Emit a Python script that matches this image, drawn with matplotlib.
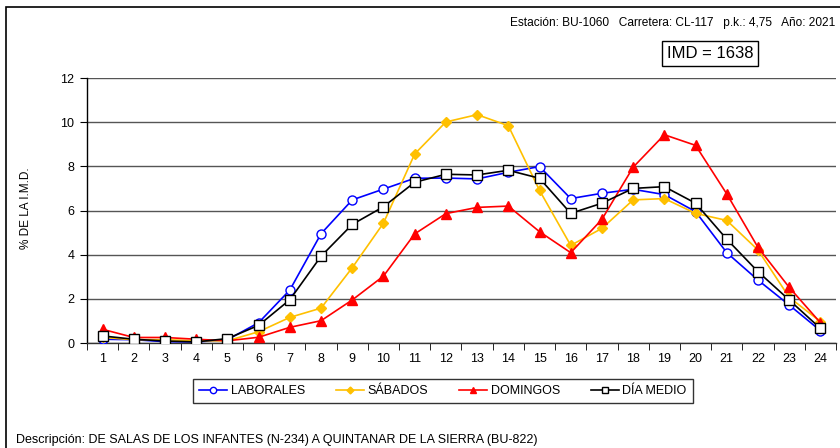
import numpy as np
import matplotlib
matplotlib.use('Agg')
import matplotlib.pyplot as plt
from matplotlib.patches import Rectangle

plt.rcParams['font.family'] = ['Liberation Sans', 'DejaVu Sans']

hours = list(range(1, 25))
laborales = [0.17, 0.15, 0.06, 0.05, 0.15, 0.92, 2.40, 4.95, 6.48, 6.97, 7.46, 7.47,
             7.43, 7.73, 7.99, 6.54, 6.78, 6.96, 6.72, 5.95, 4.09, 2.85, 1.72, 0.56]
sabados = [0.25, 0.15, 0.15, 0.10, 0.10, 0.51, 1.16, 1.58, 3.41, 5.43, 8.56, 10.01,
           10.34, 9.84, 6.91, 4.42, 5.19, 6.48, 6.54, 5.87, 5.55, 4.21, 2.07, 0.97]
domingos = [0.62, 0.25, 0.25, 0.17, 0.10, 0.26, 0.71, 1.01, 1.95, 3.03, 4.94, 5.86,
            6.14, 6.20, 5.04, 4.09, 5.60, 7.96, 9.43, 8.95, 6.75, 4.33, 2.52, 0.92]
dia_medio = [0.32, 0.17, 0.09, 0.05, 0.20, 0.80, 1.96, 3.93, 5.37, 6.17, 7.28, 7.64,
             7.61, 7.82, 7.46, 5.87, 6.33, 7.00, 7.08, 6.33, 4.70, 3.23, 1.95, 0.66]

W, H = 840, 448
fig = plt.figure(figsize=(W / 100, H / 100), dpi=100)

# outer frame (only left and top visible in the original)
fig.patches.append(Rectangle((6 / W, -0.1), 1.2, 1 - 7 / H + 0.1, transform=fig.transFigure,
                             fill=False, edgecolor='black', linewidth=1.2))

ax = fig.add_axes([87 / W, 1 - 343 / H, (836 - 87) / W, (343 - 78) / H])

ax.plot(hours, laborales, '-o', color='#0000FF', lw=1.2, ms=6.5, mfc='white',
        mec='#0000FF', mew=1.0, label='LABORALES', zorder=3)
ax.plot(hours, sabados, '-D', color='#FFC000', lw=1.2, ms=5, mfc='#FFC000',
        mec='#FFC000', label='SÁBADOS', zorder=3)
ax.plot(hours, domingos, '-^', color='#FF0000', lw=1.2, ms=6.5, mfc='#FF0000',
        mec='#FF0000', label='DOMINGOS', zorder=3)
ax.plot(hours, dia_medio, '-s', color='black', lw=1.2, ms=7, mfc='white',
        mec='black', mew=1.0, label='DÍA MEDIO', zorder=4)

ax.set_xlim(0.5, 24.5)
ax.set_ylim(0, 12)
ax.set_yticks(np.arange(0, 13, 2))
ax.set_xticks(hours)
ax.set_xticks(np.arange(0.5, 25, 1), minor=True)
ax.tick_params(axis='x', which='major', length=0, labelsize=9, pad=7)
ax.tick_params(axis='x', which='minor', length=5, direction='out', color='black')
ax.tick_params(axis='y', which='major', length=5, direction='out', labelsize=9, pad=4)
ax.yaxis.grid(True, color='#555555', linewidth=1.0)
ax.set_axisbelow(True)
for s in ['top', 'right']:
    ax.spines[s].set_visible(False)
ax.spines['left'].set_linewidth(1.0)
ax.spines['bottom'].set_linewidth(1.0)
ax.spines['bottom'].set_color('#333333')

fig.text(26 / W, 1 - 208 / H, '% DE LA I.M.D.', rotation=90, ha='center', va='center', fontsize=8.5)

fig.text(835 / W, 1 - 23 / H, 'Estación: BU-1060   Carretera: CL-117   p.k.: 4,75   Año: 2021',
         ha='right', va='center', fontsize=8.6)
fig.text(710 / W, 1 - 54 / H, 'IMD = 1638', ha='center', va='center', fontsize=12,
         bbox=dict(boxstyle='square,pad=0.3', facecolor='white', edgecolor='black', linewidth=1.0))

fig.text(16 / W, 1 - 440 / H,
         'Descripción: DE SALAS DE LOS INFANTES (N-234) A QUINTANAR DE LA SIERRA (BU-822)',
         ha='left', va='center', fontsize=9)

leg = fig.legend(loc='center', bbox_to_anchor=(443 / W, 1 - 391 / H), ncol=4, fontsize=9,
                 frameon=True, fancybox=False, edgecolor='black', handlelength=2.2,
                 columnspacing=2.5, handletextpad=0.3, borderpad=0.5, markerscale=0.7)
leg.get_frame().set_linewidth(1.0)

fig.savefig('out.png', dpi=100)
